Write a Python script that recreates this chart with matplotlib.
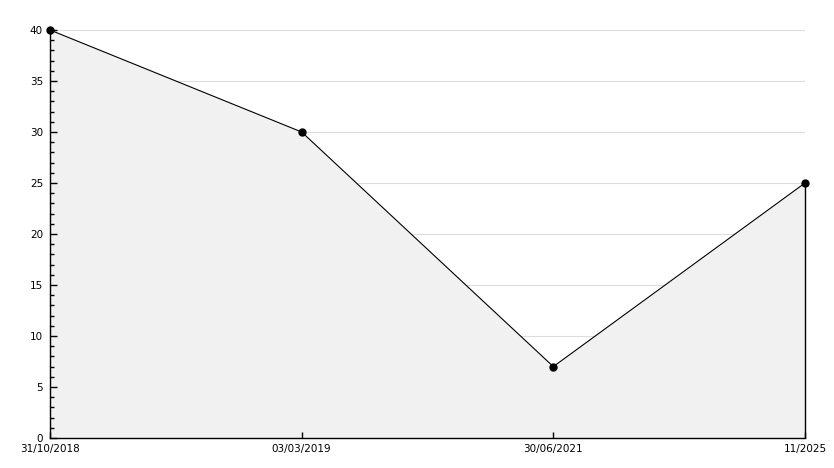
import matplotlib
matplotlib.use("Agg")
import matplotlib.pyplot as plt
from matplotlib.ticker import MultipleLocator

labels = ["31/10/2018", "03/03/2019", "30/06/2021", "11/2025"]
values = [40, 30, 7, 25]
grid_levels = [5, 10, 15, 20, 25, 30, 35, 40]

W, H = 834, 468
fig = plt.figure(figsize=(W / 100, H / 100), dpi=100)
ax = fig.add_axes([50 / W, 30 / H, (805 - 50) / W, (438 - 30) / H])

x = list(range(len(labels)))
ax.set_xlim(x[0], x[-1])
ax.set_ylim(0, 40)

ax.hlines(grid_levels, x[0], x[-1], color="#dddddd", linewidth=0.8, zorder=0.2)
ax.fill_between(x, values, 0, color="#f1f1f1", zorder=0.5, linewidth=0)
ax.plot(x, values, color="black", linewidth=0.8, zorder=3)
ax.plot(x, values, linestyle="none", marker="o", markersize=5, color="black",
        zorder=4, clip_on=False)
ax.vlines(x[-1], 0, values[-1], color="black", linewidth=1.0, zorder=3, clip_on=False)

ax.yaxis.set_major_locator(MultipleLocator(5))
ax.yaxis.set_minor_locator(MultipleLocator(1))
ax.set_xticks(x)
ax.set_xticklabels(labels)

for s in ["top", "right"]:
    ax.spines[s].set_visible(False)
for s in ["left", "bottom"]:
    ax.spines[s].set_color("black")
    ax.spines[s].set_linewidth(1.0)
    ax.spines[s].set_zorder(5)

ax.tick_params(axis="y", which="major", direction="in", length=5, width=1, pad=5, labelsize=7.5)
ax.tick_params(axis="y", which="minor", direction="in", length=3, width=1)
ax.tick_params(axis="x", which="major", direction="in", length=4, width=1, pad=4, labelsize=7.5)

fig.savefig("out.png", dpi=100, facecolor="white")
